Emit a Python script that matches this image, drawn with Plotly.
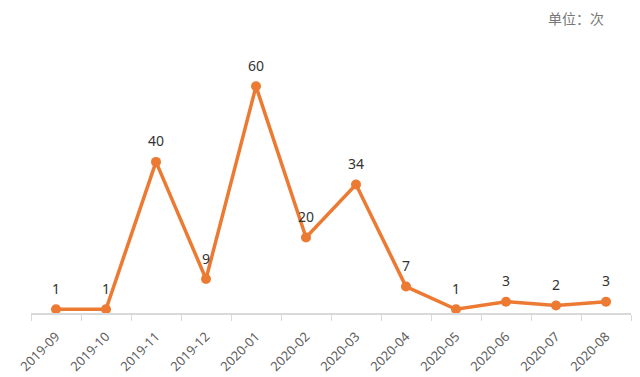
import plotly.graph_objects as go

months = ["2019-09", "2019-10", "2019-11", "2019-12", "2020-01", "2020-02",
          "2020-03", "2020-04", "2020-05", "2020-06", "2020-07", "2020-08"]
counts = [1, 1, 40, 9, 60, 20, 34, 7, 1, 3, 2, 3]
unit_label = "单位：次"

color = "#EC7A32"

fig = go.Figure()
fig.add_trace(go.Scatter(
    x=months, y=counts, mode="lines+markers",
    line=dict(color=color, width=3.5),
    marker=dict(color=color, size=10),
    cliponaxis=False, hoverinfo="skip",
))

annotations = [dict(
    x=m, y=v, xref="x", yref="y", text=str(v), showarrow=False,
    yshift=21, xanchor="center", yanchor="middle",
    font=dict(family="Noto Sans, Arial, sans-serif", size=14, color="#333333"),
) for m, v in zip(months, counts)]

annotations.append(dict(
    text=unit_label, xref="paper", yref="paper",
    x=(606 - 31) / 600, y=(313 - 18) / 272,
    xanchor="right", yanchor="middle", showarrow=False,
    font=dict(family="Noto Sans CJK SC", size=14, color="#777777"),
))

fig.update_layout(
    width=640, height=377,
    margin=dict(l=31, r=9, t=41, b=64, autoexpand=False),
    paper_bgcolor="white", plot_bgcolor="white",
    showlegend=False,
    font=dict(family="Noto Sans CJK SC, Noto Sans, sans-serif"),
    xaxis=dict(
        type="category", tickson="boundaries", ticks="outside", ticklen=6,
        tickcolor="#d9d9d9", showline=True, linecolor="#d9d9d9", linewidth=1.5,
        showgrid=False, tickangle=-45, automargin=False, ticklabelstandoff=9,
        tickfont=dict(family="Noto Sans, Arial, sans-serif", size=13, color="#606060"),
        range=[-0.5, 11.5],
    ),
    yaxis=dict(range=[0, 72], visible=False, showgrid=False, zeroline=False),
    annotations=annotations,
)

fig.write_html("out.html", config={"displayModeBar": False},
               post_script="document.body.style.margin='0';")
